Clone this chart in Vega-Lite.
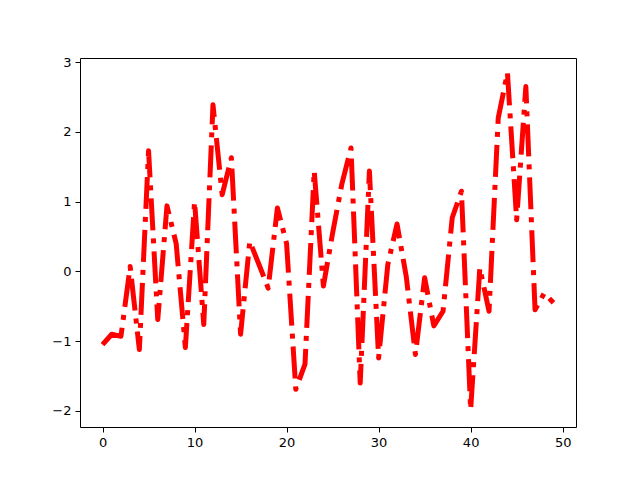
{
  "$schema": "https://vega.github.io/schema/vega-lite/v6.json",
  "width": 496,
  "height": 369,
  "autosize": "none",
  "padding": {"left": 80, "top": 58, "right": 64, "bottom": 53},
  "config": {
    "view": {"stroke": "black", "strokeWidth": 1},
    "axis": {
      "grid": false,
      "domain": false,
      "tickColor": "black",
      "tickSize": 5,
      "tickWidth": 1,
      "labelColor": "black",
      "labelFont": "DejaVu Sans",
      "labelFontSize": 13,
      "labelPadding": 4,
      "title": null
    }
  },
  "data": {
    "values": [
      {"x": 0, "y": -1.05}, {"x": 1, "y": -0.9}, {"x": 2, "y": -0.93}, {"x": 3, "y": 0.07},
      {"x": 4, "y": -1.12}, {"x": 5, "y": 1.73}, {"x": 6, "y": -0.69}, {"x": 7, "y": 0.94},
      {"x": 8, "y": 0.4}, {"x": 9, "y": -1.09}, {"x": 10, "y": 1.0}, {"x": 11, "y": -0.76},
      {"x": 12, "y": 2.39}, {"x": 13, "y": 1.1}, {"x": 14, "y": 1.63}, {"x": 15, "y": -0.9},
      {"x": 16, "y": 0.43}, {"x": 17, "y": 0.1}, {"x": 18, "y": -0.24}, {"x": 19, "y": 0.91},
      {"x": 20, "y": 0.4}, {"x": 21, "y": -1.69}, {"x": 22, "y": -1.33}, {"x": 23, "y": 1.44},
      {"x": 24, "y": -0.21}, {"x": 25, "y": 0.55}, {"x": 26, "y": 1.25}, {"x": 27, "y": 1.77},
      {"x": 28, "y": -1.6}, {"x": 29, "y": 1.44}, {"x": 30, "y": -1.24}, {"x": 31, "y": 0.1},
      {"x": 32, "y": 0.68}, {"x": 33, "y": -0.07}, {"x": 34, "y": -1.19}, {"x": 35, "y": -0.09},
      {"x": 36, "y": -0.78}, {"x": 37, "y": -0.57}, {"x": 38, "y": 0.77}, {"x": 39, "y": 1.15},
      {"x": 40, "y": -1.98}, {"x": 41, "y": 0.05}, {"x": 42, "y": -0.57}, {"x": 43, "y": 2.2},
      {"x": 44, "y": 2.85}, {"x": 45, "y": 0.74}, {"x": 46, "y": 2.65}, {"x": 47, "y": -0.55},
      {"x": 48, "y": -0.31}, {"x": 49, "y": -0.45}
    ]
  },
  "mark": {
    "type": "line",
    "color": "#ff0000",
    "strokeWidth": 5,
    "strokeDash": [32, 8, 5, 8],
    "strokeCap": "butt",
    "strokeJoin": "round"
  },
  "encoding": {
    "x": {
      "field": "x",
      "type": "quantitative",
      "scale": {"domain": [-2.45, 51.45], "nice": false, "zero": false},
      "axis": {"values": [0, 10, 20, 30, 40, 50], "format": "d"}
    },
    "y": {
      "field": "y",
      "type": "quantitative",
      "scale": {"domain": [-2.23, 3.06], "nice": false, "zero": false},
      "axis": {"values": [-2, -1, 0, 1, 2, 3], "format": "d"}
    }
  }
}
